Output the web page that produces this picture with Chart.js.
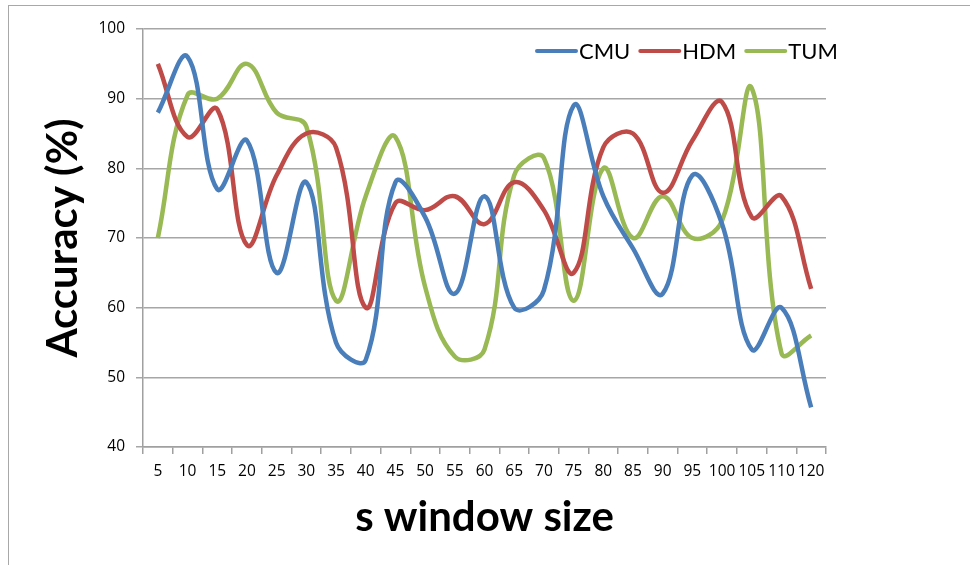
<!DOCTYPE html>
<html>
<head>
<meta charset="utf-8">
<script src="https://cdn.jsdelivr.net/npm/chart.js@4"></script>
<style>
  body { margin: 0; background: #fff; }
  #wrap { position: relative; width: 970px; height: 565px; }
  #frame { position: absolute; left: 8px; top: 5px; right: 0; bottom: 0;
           border-left: 1px solid #a8a8a8; border-top: 1px solid #a8a8a8; }
  #accChart { position: absolute; left: 0; top: 0; }
</style>
</head>
<body>
<div id="wrap">
  <div id="frame"></div>
  <canvas id="accChart" width="970" height="565"></canvas>
</div>
<script>
// window sizes on the x axis
const windowSizes = ['5','10','15','20','25','30','35','40','45','50','55','60',
                     '65','70','75','80','85','90','95','100','105','110','120'];

// accuracy (%) per data set
const cmu = [88, 96, 77, 84, 65, 78, 55, 52.5, 78, 73, 62, 76, 60, 62.5, 89, 76, 68.5, 62, 79, 72, 54, 60, 45.7];
const hdm = [95, 84.5, 88.5, 69, 79, 85, 83, 60, 75, 74, 76, 72, 78, 74, 65, 83, 85, 76.5, 84, 89.5, 73, 76, 62.7];
const tum = [70, 90.5, 90, 95, 88, 86, 61, 76, 84.5, 63, 53, 54, 79, 81.5, 61, 80, 70, 76, 70, 72.5, 91.5, 53.5, 56];

const yTicks = [40, 50, 60, 70, 80, 90, 100];

const tickFont = { family: 'Open Sans', size: 15.5 };
const titleFont = { family: 'Lato', size: 42, weight: 'bold' };

function series(label, data, color) {
  return {
    label: label,
    data: data,
    borderColor: color,
    backgroundColor: color,
    borderWidth: 4.5,
    pointRadius: 0,
    tension: 0.4,
    fill: false
  };
}

// legend drawn inside the plot, top right
const insideLegend = {
  id: 'insideLegend',
  afterDraw(chart) {
    const ctx = chart.ctx;
    ctx.save();
    ctx.font = '22px Lato';
    ctx.textBaseline = 'middle';
    ctx.fillStyle = '#000';
    let x = 537;
    const y = 51;
    chart.data.datasets.forEach(ds => {
      ctx.strokeStyle = ds.borderColor;
      ctx.lineWidth = 4;
      ctx.lineCap = 'round';
      ctx.beginPath();
      ctx.moveTo(x, y);
      ctx.lineTo(x + 39, y);
      ctx.stroke();
      ctx.fillText(ds.label, x + 42, y + 1);
      x += 42 + ctx.measureText(ds.label).width + 10;
    });
    ctx.restore();
  }
};

const ctx = document.getElementById('accChart').getContext('2d');
const chart = new Chart(ctx, {
  type: 'line',
  data: {
    labels: windowSizes,
    datasets: [
      series('CMU', cmu, '#4a7ebb'),
      series('HDM', hdm, '#be4b48'),
      series('TUM', tum, '#98b954')
    ]
  },
  options: {
    responsive: false,
    animation: false,
    layout: { padding: { left: 8, right: 144, top: 29, bottom: 0 } },
    plugins: {
      legend: { display: false },
      tooltip: { enabled: false }
    },
    scales: {
      x: {
        offset: true,
        grid: { offset: true, drawOnChartArea: false, drawTicks: true, tickLength: 7, color: '#a0a0a0', lineWidth: 1.5 },
        border: { color: '#a0a0a0', width: 1.5 },
        ticks: { font: tickFont, color: '#000', padding: 8, maxRotation: 0, autoSkip: false },
        title: { display: true, text: 's window size', font: titleFont, color: '#000', padding: { top: 0, bottom: 22 } },
        afterFit(scale) { scale.height = 118; }
      },
      y: {
        min: 40,
        max: 100,
        afterBuildTicks(scale) { scale.ticks = yTicks.map(v => ({ value: v })); },
        grid: { color: '#a6a6a6', lineWidth: 1.5, drawTicks: true, tickLength: 7 },
        border: { color: '#a0a0a0', width: 1.5 },
        ticks: { font: tickFont, color: '#000', padding: 11 },
        title: { display: true, text: 'Accuracy (%)', font: titleFont, color: '#000', padding: { top: 30, bottom: 0 } },
        afterFit(scale) { scale.width = 135; }
      }
    }
  },
  plugins: [insideLegend]
});
</script>
</body>
</html>
